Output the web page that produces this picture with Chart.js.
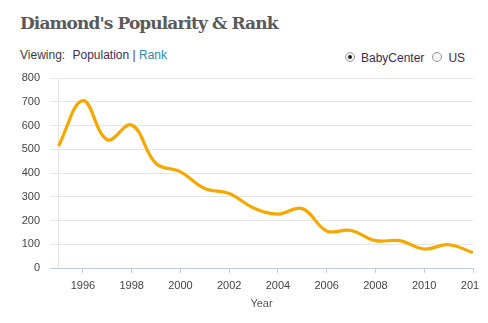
<!DOCTYPE html>
<html>
<head>
<meta charset="utf-8">
<script src="https://cdn.jsdelivr.net/npm/chart.js@4.4.1/dist/chart.umd.min.js"></script>
<style>
  html, body { margin: 0; padding: 0; background: #fff; }
  body { width: 488px; height: 323px; position: relative; overflow: hidden; font-family: "Liberation Sans", Arial, sans-serif; }
  #title { position: absolute; left: 20px; top: 13px; font-family: "DejaVu Serif", serif; font-weight: bold; font-size: 17px; letter-spacing: -0.9px; color: #5a5a5a; white-space: nowrap; }
  #viewing { position: absolute; left: 20px; top: 48px; font-size: 12px; color: #3a3a4a; white-space: nowrap; }
  #viewing .pop { color: #3b2c55; margin-left: 4px; }
  #viewing .sep { color: #5a2d82; }
  #viewing .rank { color: #2b8bb0; }
  #source { position: absolute; left: 345px; top: 51px; font-size: 12px; color: #3b2c55; white-space: nowrap; }
  .radio { display: inline-block; width: 8px; height: 8px; border: 1px solid #999; border-radius: 50%; position: relative; vertical-align: 0px; margin-right: 6px; background: #f4f4f4; }
  .radio.on::after { content: ""; position: absolute; left: 2px; top: 2px; width: 4px; height: 4px; border-radius: 50%; background: #222; }
  .gap { margin-left: 8px; }
  #wrap { position: absolute; left: 0; top: 0; width: 479px; height: 323px; }
</style>
</head>
<body>
<div id="title">Diamond's Popularity &amp; Rank</div>
<div id="viewing">Viewing: <span class="pop">Population</span> <span class="sep">|</span> <span class="rank">Rank</span></div>
<div id="source"><span class="radio on"></span>BabyCenter<span class="radio gap"></span>US</div>
<div id="wrap"><canvas id="chart"></canvas></div>
<script>
// Babies named Diamond per year (BabyCenter)
const years = [1995, 1996, 1997, 1998, 1999, 2000, 2001, 2002, 2003, 2004, 2005, 2006, 2007, 2008, 2009, 2010, 2011, 2012];
const population = [514, 705, 540, 602, 440, 405, 335, 314, 253, 227, 250, 156, 158, 115, 115, 80, 98, 65];
const yearTicks = [1996, 1998, 2000, 2002, 2004, 2006, 2008, 2010, 2012];
const yTickStep = 100;

const points = years.map((y, i) => ({ x: y, y: population[i] }));

new Chart(document.getElementById('chart'), {
  type: 'line',
  data: {
    datasets: [{
      label: 'Population',
      data: points,
      borderColor: '#f5a800',
      borderWidth: 3.2,
      pointRadius: 0,
      tension: 0.4,
      fill: false
    }]
  },
  options: {
    responsive: true,
    maintainAspectRatio: false,
    animation: false,
    events: [],
    layout: { autoPadding: false, padding: { top: 78, right: 6, left: 0, bottom: 0 } },
    plugins: { legend: { display: false }, tooltip: { enabled: false } },
    scales: {
      x: {
        type: 'linear',
        min: 1994.65,
        max: 2012,
        afterBuildTicks: (scale) => {
          scale.ticks = [{ value: years[0] }].concat(yearTicks.map(v => ({ value: v })));
        },
        afterFit: (scale) => {
          scale.height = 55;
          scale.paddingLeft = 0;
          scale.paddingRight = 0;
        },
        border: { display: true, color: '#c0cfdf', width: 1 },
        grid: {
          color: (c) => (c.tick && c.tick.value === years[0]) ? '#e3e3e3' : 'rgba(0,0,0,0)',
          tickColor: (c) => (c.tick && c.tick.value === years[0]) ? 'rgba(0,0,0,0)' : '#c0cfdf',
          tickLength: 5,
          drawTicks: true
        },
        ticks: {
          autoSkip: false,
          maxRotation: 0,
          padding: 6,
          color: '#444',
          font: { family: '"Liberation Sans", Arial, sans-serif', size: 11 },
          callback: (v) => v === years[0] ? '' : String(v)
        },
        title: {
          display: true,
          text: 'Year',
          color: '#555',
          font: { family: '"Liberation Sans", Arial, sans-serif', size: 11 },
          padding: { top: 0, bottom: 12 }
        }
      },
      y: {
        min: 0,
        max: 800,
        afterFit: (scale) => { scale.width = 50; },
        border: { display: false },
        grid: { color: '#e6e6e6', drawTicks: false },
        ticks: {
          stepSize: yTickStep,
          padding: 10,
          color: '#444',
          font: { family: '"Liberation Sans", Arial, sans-serif', size: 11 }
        }
      }
    }
  }
});
</script>
</body>
</html>
